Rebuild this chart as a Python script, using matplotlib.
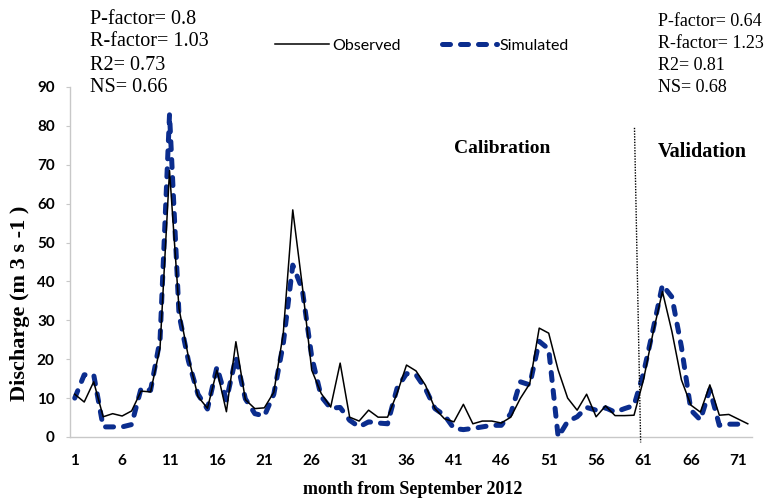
import matplotlib.pyplot as plt

months = list(range(1, 73))
observed = [11, 9, 14.2, 5.2, 6.0, 5.4, 6.7, 11.8, 11.6, 23,
            68.5, 33, 20.5, 10.4, 7.4, 17.2, 6.5, 24.5, 9.6, 7.3,
            7.5, 11.5, 26.7, 58.4, 39, 17.2, 11.2, 7.7, 19, 5.1,
            4.1, 6.9, 5.1, 5.1, 11.2, 18.5, 17, 13.3, 7.3, 4.7,
            3.9, 8.4, 3.4, 4.1, 4.1, 3.6, 5.1, 9.9, 13.7, 28,
            26.7, 17.2, 10, 6.9, 11, 5.2, 8, 5.5, 5.5, 5.6,
            14.7, 26.7, 37.4, 27.1, 14.7, 8.2, 6.4, 13.4, 5.6, 5.8,
            4.6, 3.4]
simulated = [10, 16, 16, 2.6, 2.6, 2.6, 3.2, 12.5, 12, 25,
             83, 31.5, 19.5, 11, 7.2, 18, 9.5, 20.5, 9.8, 6,
             5.4, 11, 24, 44.2, 38, 20.6, 10.4, 7.4, 7.6, 4.3,
             2.6, 3.9, 3.6, 3.4, 12.5, 16.3, 16, 12.4, 7.3, 5.6,
             2.2, 1.9, 2.2, 2.6, 3, 3, 6, 14.2, 13.4, 24.6,
             22.6, 0, 4, 5.2, 7.6, 6.9, 7.5, 6.4, 7.3, 8.1,
             16.4, 27.5, 39.1, 36, 23.2, 6.9, 4.4, 12.2, 3, 3.3,
             3.3, 3.3]
xticks = list(range(1, 73, 5))
yticks = list(range(0, 91, 10))
stats_cal = ["P-factor= 0.8", "R-factor= 1.03", "R2= 0.73", "NS= 0.66"]
stats_val = ["P-factor= 0.64", "R-factor= 1.23", "R2= 0.81", "NS= 0.68"]

W, H = 765, 499
serif = "Liberation Serif"
sans = "Lato"


def px(x, y):
    return x / W, 1 - y / H


fig = plt.figure(figsize=(W / 100, H / 100), dpi=100)
ax = fig.add_axes([70 / W, 62 / H, 682.5 / W, 350 / H])

ax.plot(months, simulated, color="#0b2d8e", lw=3.6, linestyle=(0, (1.6, 2.0)),
        dash_capstyle="round", label="Simulated", zorder=2)
ax.plot(months, observed, color="black", lw=1.1, label="Observed", zorder=3)

# calibration / validation split (slightly slanted in the original)
ax.plot([60.05, 60.7], [79.5, -1.4], color="black", lw=1, linestyle=(0, (1, 1)),
        clip_on=False, zorder=4)

ax.set_xlim(0.5, 72.5)
ax.set_ylim(0, 90)
ax.set_xticks(xticks)
ax.set_yticks(yticks)
for s in ["top", "right"]:
    ax.spines[s].set_visible(False)
for s in ["left", "bottom"]:
    ax.spines[s].set_color("#c8c8c8")
    ax.spines[s].set_linewidth(1)
ax.tick_params(axis="x", length=0, pad=12)
ax.tick_params(axis="y", length=3, color="#c8c8c8", pad=8)
for lab in ax.get_xticklabels() + ax.get_yticklabels():
    lab.set_fontfamily(sans)
    lab.set_fontweight("bold")
    lab.set_fontsize(11)

handles, labels = ax.get_legend_handles_labels()
leg = ax.legend(handles[::-1], labels[::-1], ncol=2, frameon=False,
                loc="center", bbox_to_anchor=px(422, 46), bbox_transform=fig.transFigure,
                prop={"family": sans, "size": 11.5}, handlelength=3.4,
                handletextpad=0.2, columnspacing=2.6)

for i, t in enumerate(stats_cal):
    fig.text(*px(90, 19 + i * 23), t, family=serif, fontsize=14.5, va="center", ha="left")
for i, t in enumerate(stats_val):
    fig.text(*px(658, 22 + i * 21.7), t, family=serif, fontsize=13, va="center", ha="left")

fig.text(*px(502, 148), "Calibration", family=serif, fontweight="bold", fontsize=14,
         ha="center", va="center")
fig.text(*px(702, 152), "Validation", family=serif, fontweight="bold", fontsize=14.5,
         ha="center", va="center")

fig.text(*px(413, 490), "month from September 2012", family=serif, fontweight="bold",
         fontsize=13, ha="center", va="center")
fig.text(*px(20, 303), "Discharge (m 3 s -1 )", family=serif, fontweight="bold",
         fontsize=16, ha="center", va="center", rotation=90)

fig.savefig("out.png", dpi=100)
